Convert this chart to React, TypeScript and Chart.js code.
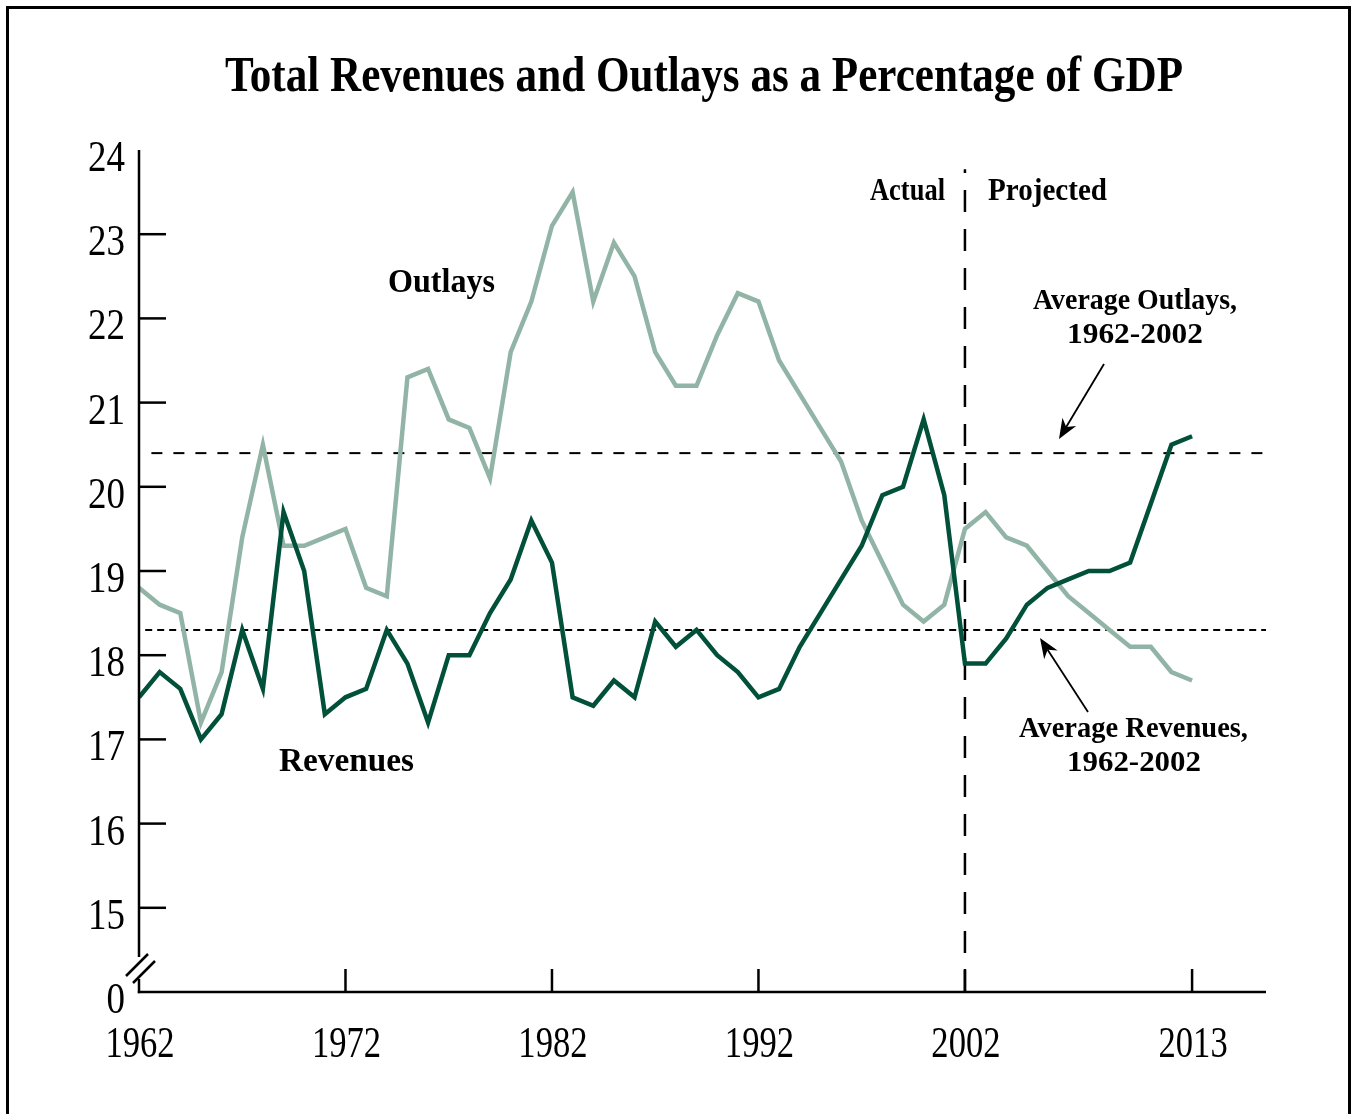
import React, { useEffect, useRef } from "react";
import { Chart, registerables } from "chart.js";

Chart.register(...registerables);

const years: number[] = [
  1962, 1963, 1964, 1965, 1966, 1967, 1968, 1969, 1970, 1971,
  1972, 1973, 1974, 1975, 1976, 1977, 1978, 1979, 1980, 1981,
  1982, 1983, 1984, 1985, 1986, 1987, 1988, 1989, 1990, 1991,
  1992, 1993, 1994, 1995, 1996, 1997, 1998, 1999, 2000, 2001,
  2002, 2003, 2004, 2005, 2006, 2007, 2008, 2009, 2010, 2011,
  2012, 2013,
];

const outlays: number[] = [
  18.8, 18.6, 18.5, 17.2, 17.8, 19.4, 20.5, 19.3, 19.3, 19.4,
  19.5, 18.8, 18.7, 21.3, 21.4, 20.8, 20.7, 20.1, 21.6, 22.2,
  23.1, 23.5, 22.2, 22.9, 22.5, 21.6, 21.2, 21.2, 21.8, 22.3,
  22.2, 21.5, 21.1, 20.7, 20.3, 19.6, 19.1, 18.6, 18.4, 18.6,
  19.5, 19.7, 19.4, 19.3, 19.0, 18.7, 18.5, 18.3, 18.1, 18.1,
  17.8, 17.7,
];

const revenues: number[] = [
  17.5, 17.8, 17.6, 17.0, 17.3, 18.3, 17.6, 19.7, 19.0, 17.3,
  17.5, 17.6, 18.3, 17.9, 17.2, 18.0, 18.0, 18.5, 18.9, 19.6,
  19.1, 17.5, 17.4, 17.7, 17.5, 18.4, 18.1, 18.3, 18.0, 17.8,
  17.5, 17.6, 18.1, 18.5, 18.9, 19.3, 19.9, 20.0, 20.8, 19.9,
  17.9, 17.9, 18.2, 18.6, 18.8, 18.9, 19.0, 19.0, 19.1, 19.8,
  20.5, 20.6,
];

const avgOutlays = 20.4;
const avgRevenues = 18.3;
const avgOutlaysSpan: number[] = [1962.6, 2016.6];
const avgRevenuesSpan: number[] = [1962.3, 2016.6];
const dividerYear = 2002;
const dividerSpan: number[] = [14, 23.77];

const xTickValues: number[] = [1962, 1972, 1982, 1992, 2002, 2013];
const xTickLabels: string[] = ["1962", "1972", "1982", "1992", "2002", "2013"];
const yTickValues: number[] = [14, 15, 16, 17, 18, 19, 20, 21, 22, 23, 24];
const yTickLabels: string[] = ["0", "15", "16", "17", "18", "19", "20", "21", "22", "23", "24"];
const yTickMarks: number[] = [15, 16, 17, 18, 19, 20, 21, 22, 23];

const xMin = 1962;
const xMax = 2016.58;
const yMin = 14;
const yMax = 24;

const titleText = "Total Revenues and Outlays as a Percentage of GDP";

const SERIF = '"Liberation Serif", "Times New Roman", serif';
const OUTLAY_COLOR = "#92b4a7";
const REVENUE_COLOR = "#00503a";

function drawText(
  ctx: CanvasRenderingContext2D,
  text: string,
  x: number,
  y: number,
  size: number,
  bold: boolean,
  targetWidth: number,
  align: "left" | "center" | "right" = "left"
) {
  ctx.save();
  ctx.font = `${bold ? "bold " : ""}${size}px ${SERIF}`;
  ctx.fillStyle = "#000";
  ctx.textBaseline = "alphabetic";
  const w = ctx.measureText(text).width;
  const sx = targetWidth > 0 ? targetWidth / w : 1;
  ctx.translate(x, y);
  ctx.scale(sx, 1);
  ctx.textAlign = align;
  ctx.fillText(text, 0, 0);
  ctx.restore();
}

function drawArrow(ctx: CanvasRenderingContext2D, x1: number, y1: number, x2: number, y2: number) {
  const ang = Math.atan2(y2 - y1, x2 - x1);
  const headLen = 20;
  const headW = 8;
  ctx.save();
  ctx.strokeStyle = "#000";
  ctx.fillStyle = "#000";
  ctx.lineWidth = 1.8;
  const mx = x2 - Math.cos(ang) * headLen * 0.7;
  const my = y2 - Math.sin(ang) * headLen * 0.7;
  ctx.beginPath();
  ctx.moveTo(x1, y1);
  ctx.lineTo(mx, my);
  ctx.stroke();
  const bx = x2 - Math.cos(ang) * headLen;
  const by = y2 - Math.sin(ang) * headLen;
  const nx = -Math.sin(ang);
  const ny = Math.cos(ang);
  ctx.beginPath();
  ctx.moveTo(x2, y2);
  ctx.lineTo(bx + nx * headW, by + ny * headW);
  ctx.lineTo(mx, my);
  ctx.lineTo(bx - nx * headW, by - ny * headW);
  ctx.closePath();
  ctx.fill();
  ctx.restore();
}

function line(ctx: CanvasRenderingContext2D, x1: number, y1: number, x2: number, y2: number, w: number) {
  ctx.save();
  ctx.strokeStyle = "#000";
  ctx.lineWidth = w;
  ctx.lineCap = "butt";
  ctx.setLineDash([]);
  ctx.beginPath();
  ctx.moveTo(x1, y1);
  ctx.lineTo(x2, y2);
  ctx.stroke();
  ctx.restore();
}

const decorPlugin = {
  id: "decor",
  beforeDraw(chart: any) {
    const ctx: CanvasRenderingContext2D = chart.ctx;
    ctx.save();
    ctx.fillStyle = "#fff";
    ctx.fillRect(0, 0, chart.width, chart.height);
    ctx.restore();
  },
  afterDraw(chart: any) {
    const ctx: CanvasRenderingContext2D = chart.ctx;
    const xs = chart.scales.x;
    const ys = chart.scales.y;
    const left = xs.getPixelForValue(xMin);
    const bottom = ys.getPixelForValue(yMin);
    const top = ys.getPixelForValue(yMax);
    const right = xs.getPixelForValue(xMax);

    // outer frame
    ctx.save();
    ctx.strokeStyle = "#000";
    ctx.lineWidth = 3;
    ctx.strokeRect(7.5, 7.5, 1342, 1200);
    ctx.restore();

    // axes with break
    line(ctx, left, top, left, bottom - 35, 2.5);
    line(ctx, left, bottom - 13, left, bottom + 1.2, 2.5);
    line(ctx, left - 1.2, bottom, right, bottom, 2.5);
    line(ctx, left - 13, bottom - 16, left + 9, bottom - 38, 2.5);
    line(ctx, left - 6, bottom - 9, left + 16, bottom - 31, 2.5);

    // y tick marks (inside)
    yTickMarks.forEach((v) => {
      const py = ys.getPixelForValue(v);
      line(ctx, left, py, left + 27, py, 2.5);
    });

    // x tick marks (inside)
    xTickValues.forEach((v) => {
      if (v === xMin) return;
      const px = xs.getPixelForValue(v);
      line(ctx, px, bottom, px, bottom - 23, 2.5);
    });

    // y tick labels
    yTickValues.forEach((v, i) => {
      const py = ys.getPixelForValue(v);
      const lbl = yTickLabels[i];
      drawText(ctx, lbl, 125, py + 21, 44, false, lbl.length * 18.5, "right");
    });
    // x tick labels
    xTickValues.forEach((v, i) => {
      const px = xs.getPixelForValue(v);
      const lbl = xTickLabels[i];
      drawText(ctx, lbl, px + 1, bottom + 65, 44, false, lbl.length * 17.3, "center");
    });

    // title and annotations
    drawText(ctx, titleText, 225, 91, 50, true, 958, "left");
    drawText(ctx, "Actual", 870, 200, 31, true, 75, "left");
    drawText(ctx, "Projected", 988, 200, 31, true, 119, "left");
    drawText(ctx, "Outlays", 388, 292, 34, true, 107, "left");
    drawText(ctx, "Revenues", 279, 771, 34, true, 135, "left");
    drawText(ctx, "Average Outlays,", 1033, 309, 29, true, 204, "left");
    drawText(ctx, "1962-2002", 1067, 343, 29, true, 136, "left");
    drawText(ctx, "Average Revenues,", 1019, 737, 29, true, 229, "left");
    drawText(ctx, "1962-2002", 1067, 771, 29, true, 134, "left");

    drawArrow(ctx, 1104, 364, 1059, 439);
    drawArrow(ctx, 1088, 712, 1040, 638);
  },
};

export default function App() {
  const ref = useRef<HTMLCanvasElement | null>(null);

  useEffect(() => {
    if (!ref.current) return;
    const pts = (vals: number[]) => vals.map((v, i) => ({ x: years[i], y: v }));
    const chart = new Chart(ref.current, {
      type: "line",
      data: {
        datasets: [
          {
            label: "Revenues",
            data: pts(revenues),
            borderColor: REVENUE_COLOR,
            borderWidth: 4.5,
            pointRadius: 0,
            tension: 0,
            borderJoinStyle: "miter",
            fill: false,
          },
          {
            label: "Outlays",
            data: pts(outlays),
            borderColor: OUTLAY_COLOR,
            borderWidth: 4.5,
            pointRadius: 0,
            tension: 0,
            borderJoinStyle: "miter",
            fill: false,
          },
          {
            label: "Average Outlays",
            data: avgOutlaysSpan.map((x) => ({ x, y: avgOutlays })),
            borderColor: "#000",
            borderWidth: 2,
            borderDash: [11, 11],
            pointRadius: 0,
            fill: false,
          },
          {
            label: "Average Revenues",
            data: avgRevenuesSpan.map((x) => ({ x, y: avgRevenues })),
            borderColor: "#000",
            borderWidth: 2,
            borderDash: [7, 5],
            pointRadius: 0,
            fill: false,
          },
          {
            label: "Actual / Projected",
            data: dividerSpan.map((y) => ({ x: dividerYear, y })),
            borderColor: "#000",
            borderWidth: 2.5,
            borderDash: [22, 17],
            pointRadius: 0,
            fill: false,
          },
        ],
      },
      options: {
        animation: false,
        responsive: false,
        maintainAspectRatio: false,
        layout: { padding: { left: 0, top: 150, right: 88, bottom: 72 } },
        plugins: {
          legend: { display: false },
          title: { display: false },
          tooltip: { enabled: false },
        },
        scales: {
          x: {
            type: "linear",
            min: xMin,
            max: xMax,
            grid: { display: false },
            border: { display: false },
            ticks: { display: false },
            afterBuildTicks: (s: any) => {
              s.ticks = xTickValues.map((v) => ({ value: v }));
            },
            afterFit: (s: any) => {
              s.height = 50;
            },
          },
          y: {
            type: "linear",
            min: yMin,
            max: yMax,
            grid: { display: false },
            border: { display: false },
            ticks: { display: false },
            afterBuildTicks: (s: any) => {
              s.ticks = yTickValues.map((v) => ({ value: v }));
            },
            afterFit: (s: any) => {
              s.width = 139;
            },
          },
        },
      },
      plugins: [decorPlugin],
    });
    return () => chart.destroy();
  }, []);

  return (
    <div style={{ position: "absolute", left: 0, top: 0, width: 1354, height: 1114, background: "#fff" }}>
      <canvas ref={ref} width={1354} height={1114} style={{ display: "block" }} />
    </div>
  );
}
